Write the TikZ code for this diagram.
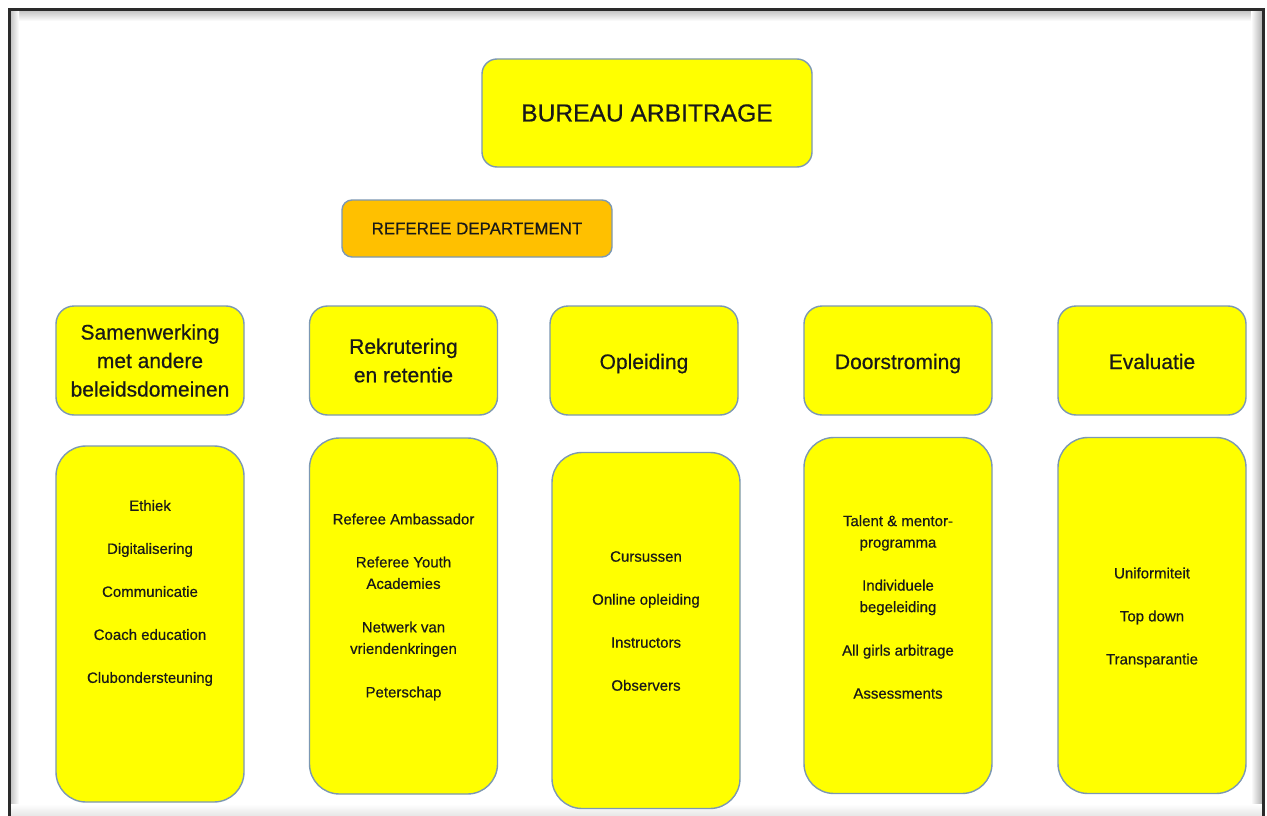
\documentclass[tikz,border=0pt]{standalone}
\usepackage{fontspec}
\setmainfont{Liberation Sans}[FakeBold=0.5]
\definecolor{yel}{HTML}{FFFF00}
\definecolor{org}{HTML}{FFC000}
\definecolor{edge}{HTML}{7C98B3}
\definecolor{framec}{HTML}{2A2A2A}
\tikzset{
  base/.style={draw=edge, line width=1.4pt, inner sep=0pt, text=black!90},
  topbox/.style={base, fill=yel, rounded corners=15pt},
  deptbox/.style={base, fill=org, rounded corners=10pt},
  catbox/.style={base, fill=yel, rounded corners=18pt, minimum width=188pt, minimum height=109pt,
    align=center, font=\fontsize{21}{28.5}\selectfont},
  oneline/.style={text height=19pt, text depth=2pt},
  detbox/.style={base, fill=yel, rounded corners=30pt, minimum width=188pt, minimum height=356pt},
  dettext/.style={align=center, inner sep=0pt, text=black!90, font=\fontsize{15}{21.5}\selectfont},
}
\begin{document}
\begin{tikzpicture}[x=1pt,y=-1pt]
\useasboundingbox (0,0) rectangle (1267,816);
\fill[white] (0,0) rectangle (1267,816);
% frame with soft inner shadow
\shade[top color=black!22, bottom color=white] (11,11) rectangle (1262,21);
\shade[left color=black!22, right color=white] (11,11) rectangle (19,816);
\shade[left color=white, right color=black!30] (1251,11) rectangle (1262,816);
\shade[top color=white, bottom color=black!10] (11,804) rectangle (1262,816);
\fill[white] (19,21) rectangle (1251,804);
\draw[framec, line width=3pt] (9.5,816) -- (9.5,9.5) -- (1263.5,9.5) -- (1263.5,816);

% top
\node[topbox, minimum width=330pt, minimum height=108pt, font=\fontsize{24.6}{28}\selectfont]
  (bureau) at (647,113) {BUREAU ARBITRAGE};
\node[deptbox, minimum width=270pt, minimum height=57pt, font=\fontsize{16.9}{20}\selectfont]
  (dept) at (477,228.5) {REFEREE DEPARTEMENT};

% categories
\node[catbox] (c1) at (150,360.5) {Samenwerking\\met andere\\beleidsdomeinen};
\node[catbox] (c2) at (403.5,360.5) {Rekrutering\\en retentie};
\node[catbox, oneline] (c3) at (644,360.5) {Opleiding};
\node[catbox, oneline] (c4) at (898,360.5) {Doorstroming};
\node[catbox, oneline] (c5) at (1152,360.5) {Evaluatie};

% detail boxes
\node[detbox] (d1) at (150,624) {};
\node[detbox] (d2) at (403.5,616) {};
\node[detbox] (d3) at (646,630.5) {};
\node[detbox] (d4) at (898,615.5) {};
\node[detbox] (d5) at (1152,615.5) {};

\node[dettext] (t1) at (150,593) {Ethiek\\[21.5pt]Digitalisering\\[21.5pt]Communicatie\\[21.5pt]Coach education\\[21.5pt]Clubondersteuning};
\node[dettext] (t2) at (403.5,607) {Referee Ambassador\\[21.5pt]Referee Youth\\Academies\\[22pt]Netwerk van\\vriendenkringen\\[22pt]Peterschap};
\node[dettext] (t3) at (646,621) {Cursussen\\[21.5pt]Online opleiding\\[21.5pt]Instructors\\[21.5pt]Observers};
\node[dettext] (t4) at (898,607) {Talent \& mentor-\\programma\\[21.5pt]Individuele\\begeleiding\\[22pt]All girls arbitrage\\[21.5pt]Assessments};
\node[dettext] (t5) at (1152,617.5) {Uniformiteit\\[21.5pt]Top down\\[21.5pt]Transparantie};
\end{tikzpicture}
\end{document}
